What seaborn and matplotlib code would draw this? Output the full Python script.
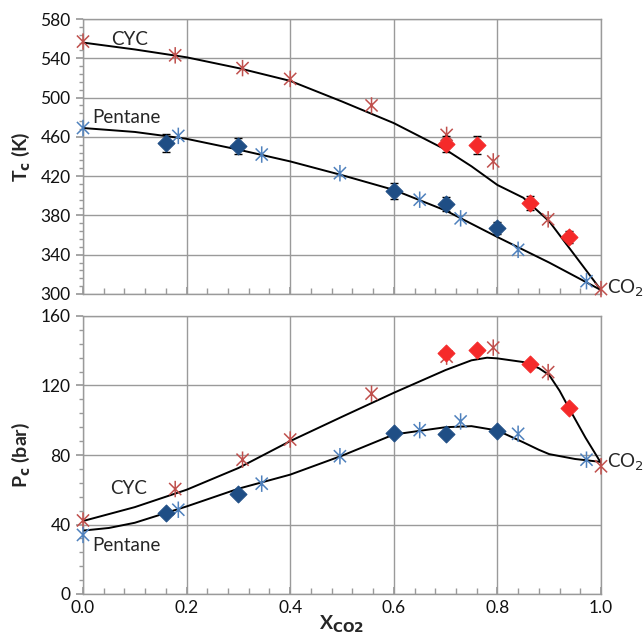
import numpy as np
import pandas as pd
import seaborn as sns
import matplotlib
matplotlib.use("Agg")
import matplotlib.pyplot as plt
from matplotlib.path import Path
from matplotlib.ticker import MultipleLocator, FormatStrFormatter

sns.set_theme(style="white")
plt.rcParams['font.family'] = ['Lato', 'DejaVu Sans']

# ---------------- data ----------------
# Top: critical temperature (K)
cyc_star_x = [0.0, 0.178, 0.308, 0.40, 0.557, 0.702, 0.792, 0.898, 1.0]
cyc_star_T = [557, 543, 530, 519, 492, 462, 435, 376, 305]
pen_star_x = [0.0, 0.184, 0.345, 0.496, 0.65, 0.729, 0.84, 0.972]
pen_star_T = [469, 461, 442, 423, 396, 377, 345, 313]
pen_dia_x = [0.16, 0.30, 0.60, 0.70, 0.80]
pen_dia_T = [454, 451, 405, 392, 367]
pen_dia_Terr = [9, 8, 8, 7, 6]
cyc_dia_x = [0.70, 0.761, 0.862, 0.938]
cyc_dia_T = [453, 452, 393, 358]
cyc_dia_Terr = [8, 9, 7, 6]
cyc_line_x = [0.0, 0.1, 0.2, 0.3, 0.4, 0.5, 0.6, 0.7, 0.75, 0.8, 0.85, 0.9, 0.95, 1.0]
cyc_line_T = [556, 549, 541, 530, 517, 496, 474, 447, 430, 411, 398, 374, 339, 304]
pen_line_x = [0.0, 0.1, 0.2, 0.3, 0.4, 0.5, 0.6, 0.7, 0.8, 0.9, 1.0]
pen_line_T = [469, 465, 458, 447, 435, 421, 406, 385, 358, 332, 304]

# Bottom: critical pressure (bar)
cyc_star_P = [42.3, 60.4, 77.3, 88.9, 115.3, 136.6, 141.8, 127.7, 73.5]
pen_star_P = [34.0, 48.5, 63.5, 79.3, 94.3, 99.3, 92.2, 77.3]
pen_dia_P = [46.6, 57.7, 92.7, 91.8, 94.1]
cyc_dia_P = [138.9, 140.3, 132.6, 106.8]
cyc_lineP_x = [0.0, 0.1, 0.2, 0.3, 0.4, 0.5, 0.6, 0.7, 0.75, 0.78, 0.8, 0.85,
               0.88, 0.9, 0.92, 0.94, 0.97, 1.0]
cyc_lineP = [42, 50, 60, 72.5, 88, 102, 115.8, 128.9, 134.5, 136, 135.6, 133.5,
             130, 126, 117, 106, 90, 75.4]
pen_lineP_x = [0.0, 0.05, 0.1, 0.2, 0.3, 0.4, 0.5, 0.6, 0.7, 0.75, 0.8, 0.85,
               0.88, 0.9, 0.95, 1.0]
pen_lineP = [36.5, 38, 41, 50.4, 60.6, 68.7, 79.6, 91.8, 96, 96.6, 94.1, 87.3,
             83, 80.5, 77.7, 76]

T_ticks = [300, 340, 380, 420, 460, 500, 540, 580]
P_ticks = [0, 40, 80, 120, 160]

# ---------------- styles ----------------
star = Path([(-1, -1), (1, 1), (-1, 1), (1, -1), (0, -1.35), (0, 1.35)],
            [Path.MOVETO, Path.LINETO, Path.MOVETO, Path.LINETO, Path.MOVETO, Path.LINETO])
c_cyc_star = "#C0504D"
c_pen_star = "#4F81BD"
c_pen_dia = "#1F4E85"
c_cyc_dia = "#F52A2A"
grid_c = "#9a9a9a"

fig = plt.figure(figsize=(6.43, 6.37), dpi=100)
W, H = 643, 637
ax1 = fig.add_axes([83 / W, 1 - 294 / H, (601 - 83) / W, (294 - 19) / H])
ax2 = fig.add_axes([83 / W, 1 - 594 / H, (601 - 83) / W, (594 - 316) / H])


def style(ax):
    ax.set_xlim(0, 1.0)
    ax.xaxis.set_major_locator(MultipleLocator(0.2))
    ax.xaxis.set_minor_locator(MultipleLocator(0.04))
    ax.grid(True, which='major', color=grid_c, lw=1.0)
    for s in ax.spines.values():
        s.set_color(grid_c)
        s.set_linewidth(1.0)
    ax.tick_params(axis='y', which='both', direction='out', color=grid_c, left=True)
    ax.tick_params(axis='y', which='major', length=5)
    ax.tick_params(axis='y', which='minor', length=3)
    ax.tick_params(axis='x', which='both', direction='in', color=grid_c, bottom=True)
    ax.tick_params(axis='x', which='major', length=5)
    ax.tick_params(axis='x', which='minor', length=4)
    ax.tick_params(labelsize=12.5, pad=4, labelcolor='#111111')
    ax.set_axisbelow(True)


def draw(ax, ypd, ypdE, ycd, ycdE, lcx, lcy, lpx, lpy, stars_c, stars_p):
    sns.lineplot(x=lcx, y=lcy, ax=ax, color='black', lw=1.4, sort=False, zorder=3)
    sns.lineplot(x=lpx, y=lpy, ax=ax, color='black', lw=1.4, sort=False, zorder=3)
    sns.scatterplot(x=cyc_star_x, y=stars_c, ax=ax, marker=star, s=140,
                    facecolor='none', edgecolor=c_cyc_star, linewidth=1.1,
                    zorder=4, clip_on=False)
    sns.scatterplot(x=pen_star_x, y=stars_p, ax=ax, marker=star, s=140,
                    facecolor='none', edgecolor=c_pen_star, linewidth=1.1,
                    zorder=4, clip_on=False)
    if ypdE is not None:
        ax.errorbar(pen_dia_x, ypd, yerr=ypdE, fmt='none', ecolor='black',
                    elinewidth=1.0, capsize=3, zorder=5)
        ax.errorbar(cyc_dia_x, ycd, yerr=ycdE, fmt='none', ecolor='black',
                    elinewidth=1.0, capsize=3, zorder=5)
    sns.scatterplot(x=pen_dia_x, y=ypd, ax=ax, marker='D', s=75,
                    color=c_pen_dia, edgecolor=c_pen_dia, zorder=6)
    sns.scatterplot(x=cyc_dia_x, y=ycd, ax=ax, marker='D', s=75,
                    color=c_cyc_dia, edgecolor=c_cyc_dia, zorder=6)


draw(ax1, pen_dia_T, pen_dia_Terr, cyc_dia_T, cyc_dia_Terr,
     cyc_line_x, cyc_line_T, pen_line_x, pen_line_T, cyc_star_T, pen_star_T)
draw(ax2, pen_dia_P, None, cyc_dia_P, None,
     cyc_lineP_x, cyc_lineP, pen_lineP_x, pen_lineP, cyc_star_P, pen_star_P)

style(ax1)
style(ax2)
ax1.set_ylim(300, 580)
ax1.set_yticks(T_ticks)
ax1.set_yticks(list(range(300, 581, 8)), minor=True)
ax1.tick_params(axis='x', labelbottom=False)
ax2.set_ylim(0, 160)
ax2.set_yticks(P_ticks)
ax2.set_yticks(list(range(0, 161, 8)), minor=True)
ax2.xaxis.set_major_formatter(FormatStrFormatter('%.1f'))

ax1.set_ylabel(r'T$_\mathbf{c}$ (K)', fontsize=14, fontweight='bold', labelpad=6)
ax2.set_ylabel(r'P$_\mathbf{c}$ (bar)', fontsize=14, fontweight='bold', labelpad=6)
ax2.set_xlabel(r'X$_\mathbf{CO2}$', fontsize=14, fontweight='bold', labelpad=-1)

ax1.text(0.055, 559, 'CYC', fontsize=13.5, ha='left', va='center')
ax1.text(0.018, 480, 'Pentane', fontsize=13.5, ha='left', va='center')
ax1.text(1.012, 306, r'CO$_2$', fontsize=13.5, ha='left', va='center', clip_on=False)
ax2.text(0.052, 61, 'CYC', fontsize=13.5, ha='left', va='center')
ax2.text(0.017, 28, 'Pentane', fontsize=13.5, ha='left', va='center')
ax2.text(1.012, 76, r'CO$_2$', fontsize=13.5, ha='left', va='center', clip_on=False)

fig.savefig('out.png', dpi=100)
